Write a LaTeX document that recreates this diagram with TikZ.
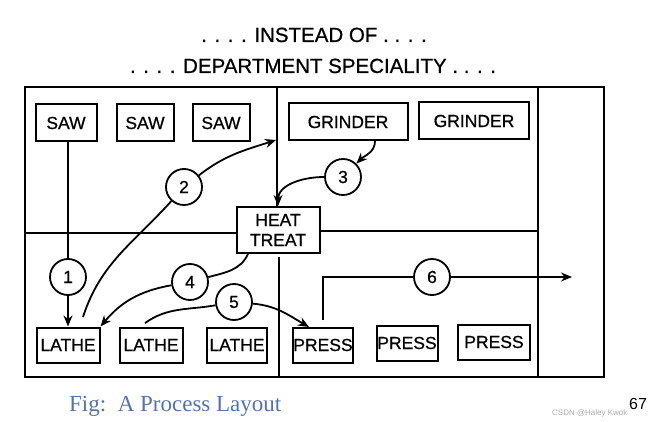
\documentclass[tikz,border=0pt]{standalone}
\usepackage{fontspec}
\setmainfont{Liberation Serif}
\setsansfont{Liberation Sans}
\newfontfamily\boxfont[FakeBold=0.7]{Liberation Sans}
\usetikzlibrary{arrows.meta,calc}
\definecolor{capblue}{RGB}{84,114,178}
\definecolor{wmgrey}{RGB}{170,170,170}
\begin{document}
\begin{tikzpicture}[x=1pt,y=1pt,
  box/.style={draw, line width=2pt, minimum height=37pt, inner sep=0pt, font=\boxfont\fontsize{17.5}{20}\selectfont},
  num/.style={draw, circle, line width=1.8pt, minimum size=36pt, inner sep=0pt, font=\boxfont\fontsize{17.5}{20}\selectfont},
  arr/.style={line width=1.8pt, -{Stealth[length=11pt,width=9pt]}},
  ln/.style={line width=1.8pt},
  fr/.style={line width=2pt},
  ttl/.style={font=\boxfont\fontsize{20.5}{24}\selectfont, inner sep=0pt, anchor=base}
]
\useasboundingbox (0,0) rectangle (650,-422);
% titles
\node[ttl] (t1) at (314,-42) {. . . . INSTEAD OF . . . .};
\node[ttl] (t2) at (313,-73) {. . . . DEPARTMENT SPECIALITY . . . .};
% frame
\draw[fr] (25,-87) rectangle (604,-377);
\draw[fr] (538,-87) -- (538,-377);
% machines
\node[box, minimum width=61pt] (saw1) at (66,-123) {SAW};
\node[box, minimum width=57pt] (saw2) at (145,-123) {SAW};
\node[box, minimum width=57pt] (saw3) at (221,-123) {SAW};
\node[box, minimum width=119pt] (gr1) at (348,-122) {GRINDER};
\node[box, minimum width=110pt] (gr2) at (474,-121) {GRINDER};
\node[box, minimum width=83pt, minimum height=46pt, align=center] (heat) at (278,-230) {HEAT\\TREAT};
\node[box, minimum width=63pt, minimum height=35pt] (lathe1) at (68,-345) {LATHE};
\node[box, minimum width=63pt, minimum height=35pt] (lathe2) at (151,-345) {LATHE};
\node[box, minimum width=60pt, minimum height=35pt] (lathe3) at (237,-345) {LATHE};
\node[box, minimum width=60pt, minimum height=35pt] (press1) at (323,-345) {PRESS};
\node[box, minimum width=61pt, minimum height=35pt] (press2) at (407,-343) {PRESS};
\node[box, minimum width=72pt, minimum height=35pt] (press3) at (494,-342) {PRESS};
% dividers
\draw[fr] (25,-233) -- (heat.west |- 0,-233);
\draw[fr] (heat.east |- 0,-231) -- (538,-231);
\draw[fr] (277,-87) -- (277,-207);
\draw[fr] (279,-257) -- (279,-377);
% numbered circles
\node[num] (c1) at (68,-277) {1};
\node[num] (c2) at (184,-187) {2};
\node[num] (c3) at (343,-177) {3};
\node[num] (c4) at (190,-282) {4};
\node[num] (c5) at (234,-302) {5};
\node[num] (c6) at (432,-277) {6};
% coordinates
\coordinate (s2) at (83,-317);
\coordinate (e2) at (276,-140);
\coordinate (s3) at (375,-141);
\coordinate (s4) at (248,-254);
\coordinate (s5) at (145,-323);
\coordinate (e5) at (309,-327);
\coordinate (s6) at (323,-320);
\coordinate (e6) at (572,-277);
% flows
\draw[ln] (saw1.south -| c1) -- (c1);
\draw[arr] (c1) -- (c1 |- lathe1.north);
\draw[ln] (s2) to[out=72,in=228] (c2);
\draw[arr] (c2) to[out=38,in=198] (e2);
\draw[arr] (s3) to[out=-90,in=45] (c3);
\draw[arr] (c3) to[out=180,in=90] (heat.north);
\draw[ln] (s4) to[out=245,in=15] (c4);
\draw[arr] (c4) to[out=190,in=50] (lathe1.north east);
\draw[ln] (s5) to[out=35,in=190] (c5);
\draw[arr] (c5) to[out=-5,in=150] (e5);
\draw[ln] (s6) |- (c6);
\draw[arr] (c6) -- (e6);
% caption
\node[anchor=base west, inner sep=0pt, text=capblue, font=\fontsize{23}{26}\selectfont] (cap) at (69,-411) {Fig:\ \ A Process Layout};
\node[anchor=base west, inner sep=0pt, text=wmgrey, font=\sffamily\fontsize{8}{9}\selectfont] (wm) at (552,-415) {CSDN @Haley Kwok};
\node[anchor=base west, inner sep=0pt, font=\sffamily\fontsize{16}{18}\selectfont] (pg) at (629,-409) {67};
\end{tikzpicture}
\end{document}
